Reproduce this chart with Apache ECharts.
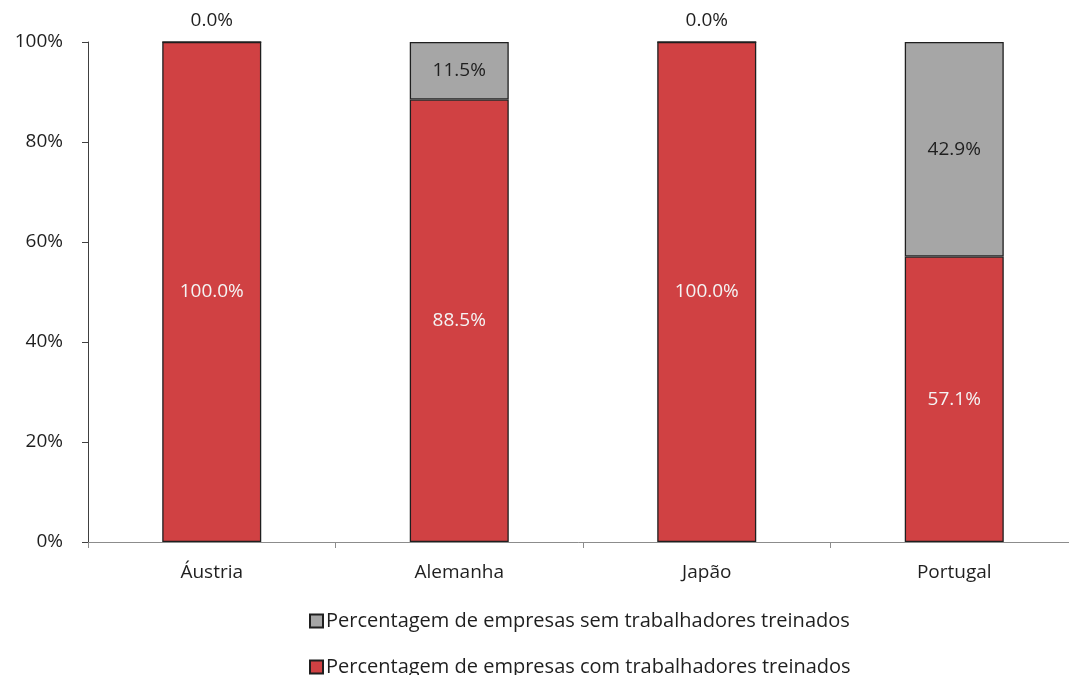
<!DOCTYPE html>
<html>
<head>
<meta charset="utf-8">
<script src="https://cdn.jsdelivr.net/npm/echarts@6/dist/echarts.min.js"></script>
<style>
  html, body { margin: 0; padding: 0; background: #fff; }
  #chart { width: 1069px; height: 675px; }
</style>
</head>
<body>
<div id="chart"></div>
<script>
// dados
const paises = ['Áustria', 'Alemanha', 'Japão', 'Portugal'];
const semTreinados = [0.0, 11.5, 0.0, 42.9];
const comTreinados = [100.0, 88.5, 100.0, 57.1];
const yTicks = [0, 20, 40, 60, 80, 100];

const nomeSem = 'Percentagem de empresas sem trabalhadores treinados';
const nomeCom = 'Percentagem de empresas com trabalhadores treinados';

const fonte = '"Open Sans", "Noto Sans", sans-serif';
const textoCor = '#1f1f1f';
const tam = 19;

const myChart = echarts.init(document.getElementById('chart'));

// uma legenda por linha, para ficar uma por baixo da outra
const legenda = (nome, topo) => ({
  orient: 'horizontal',
  left: 304,
  top: topo,
  itemWidth: 13,
  itemHeight: 13,
  icon: 'rect',
  data: [nome],
  textStyle: { fontFamily: fonte, fontSize: 20, color: textoCor, padding: [0, 0, 0, -2] }
});

const option = {
  backgroundColor: '#fff',
  animation: false,
  textStyle: { fontFamily: fonte },
  grid: { left: 88, top: 42, width: 990, height: 500, containLabel: false, outerBoundsMode: 'none' },
  legend: [legenda(nomeSem, 606), legenda(nomeCom, 652)],
  xAxis: {
    type: 'category',
    data: paises,
    axisLine: { lineStyle: { color: '#8c8c8c', width: 1 } },
    axisTick: { show: true, length: 6, lineStyle: { color: '#8c8c8c' } },
    axisLabel: { fontFamily: fonte, fontSize: tam, color: textoCor, margin: 21 }
  },
  yAxis: {
    type: 'value',
    min: yTicks[0],
    max: yTicks[yTicks.length - 1],
    interval: yTicks[1] - yTicks[0],
    splitLine: { show: false },
    axisLine: { show: true, lineStyle: { color: '#404040', width: 1 } },
    axisTick: { show: true, length: 6, lineStyle: { color: '#404040' } },
    axisLabel: { formatter: '{value}%', fontFamily: fonte, fontSize: tam, color: textoCor, margin: 25 }
  },
  series: [
    {
      name: nomeCom,
      type: 'bar',
      stack: 'total',
      barWidth: 99,
      itemStyle: { color: '#d04143', borderColor: '#1f1f1f', borderWidth: 1.3 },
      label: {
        show: true,
        position: 'inside',
        formatter: p => p.value.toFixed(1) + '%',
        fontFamily: fonte,
        fontSize: tam,
        color: '#f4f4f4'
      },
      data: comTreinados
    },
    {
      name: nomeSem,
      type: 'bar',
      stack: 'total',
      barWidth: 99,
      itemStyle: { color: '#a6a6a6', borderColor: '#1f1f1f', borderWidth: 1.3 },
      label: {
        show: true,
        position: 'inside',
        formatter: p => p.value.toFixed(1) + '%',
        fontFamily: fonte,
        fontSize: tam,
        color: textoCor
      },
      // valores zero: rótulo por cima da barra
      data: semTreinados.map(v => v === 0
        ? { value: v, label: { position: 'top', distance: 11 } }
        : v)
    }
  ]
};

myChart.setOption(option);
</script>
</body>
</html>
